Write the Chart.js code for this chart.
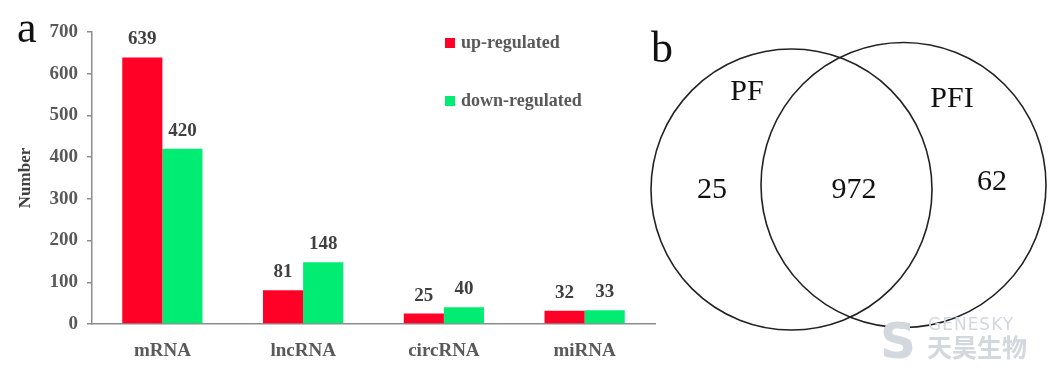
<!DOCTYPE html>
<html>
<head>
<meta charset="utf-8">
<script src="https://cdn.jsdelivr.net/npm/chart.js@4.4.1/dist/chart.umd.min.js"></script>
<style>
  body { margin: 0; background: #fff; width: 1054px; height: 368px; position: relative; overflow: hidden; }
  #bars { position: absolute; left: 0; top: 0; }
  #venn { position: absolute; left: 630px; top: 0; }
</style>
</head>
<body>
<canvas id="bars" width="660" height="368"></canvas>
<canvas id="venn" width="424" height="368"></canvas>
<script>
// panel a data
const categories = ['mRNA', 'lncRNA', 'circRNA', 'miRNA'];
const upRegulated = [639, 81, 25, 32];
const downRegulated = [420, 148, 40, 33];
const seriesNames = ['up-regulated', 'down-regulated'];

// panel b data
const vennSets = ['PF', 'PFI'];
const vennCounts = [25, 972, 62]; // PF only, shared, PFI only

const serif = '"Liberation Serif", "Times New Roman", serif';
const axisGray = '#8c8c8c';
const tickColor = '#595959';
const labelColor = '#404040';
const colors = ['#FF0027', '#00EC72'];

// value labels, legend and the panel letter
const barExtras = {
  id: 'barExtras',
  afterDatasetsDraw(chart) {
    const ctx = chart.ctx;
    ctx.save();
    ctx.font = 'bold 19px ' + serif;
    ctx.fillStyle = labelColor;
    ctx.textAlign = 'center';
    ctx.textBaseline = 'alphabetic';
    chart.data.datasets.forEach((ds, i) => {
      chart.getDatasetMeta(i).data.forEach((bar, j) => {
        ctx.fillText(ds.data[j], bar.x, bar.y - 13);
      });
    });

    // legend
    ctx.font = 'bold 18px ' + serif;
    ctx.textAlign = 'left';
    ctx.textBaseline = 'middle';
    const rows = [43, 101];
    chart.data.datasets.forEach((ds, i) => {
      ctx.fillStyle = ds.backgroundColor;
      ctx.fillRect(445, rows[i] - 5, 10, 10);
      ctx.fillStyle = tickColor;
      ctx.fillText(ds.label, 461, rows[i]);
    });

    ctx.fillStyle = '#111';
    ctx.font = '44px ' + serif;
    ctx.textBaseline = 'alphabetic';
    ctx.fillText('a', 17, 42);
    ctx.restore();
  }
};

new Chart(document.getElementById('bars'), {
  type: 'bar',
  data: {
    labels: categories,
    datasets: [
      { label: seriesNames[0], data: upRegulated, backgroundColor: colors[0], barPercentage: 1, categoryPercentage: 0.57 },
      { label: seriesNames[1], data: downRegulated, backgroundColor: colors[1], barPercentage: 1, categoryPercentage: 0.57 }
    ]
  },
  options: {
    responsive: false,
    animation: false,
    events: [],
    layout: { padding: { left: 0, top: 32, right: 5, bottom: 0 } },
    plugins: { legend: { display: false }, tooltip: { enabled: false } },
    scales: {
      x: {
        grid: { display: false },
        border: { color: axisGray, width: 1.5 },
        ticks: { font: { family: serif, size: 19, weight: 'bold' }, color: tickColor, padding: 8 },
        afterFit: s => { s.height = 44; }
      },
      y: {
        min: 0,
        max: 700,
        ticks: { stepSize: 100, font: { family: serif, size: 19, weight: 'bold' }, color: tickColor, padding: 9 },
        grid: { drawOnChartArea: false, tickLength: 5, color: axisGray, lineWidth: 1.5 },
        border: { color: axisGray, width: 1.5 },
        title: { display: true, text: 'Number', font: { family: serif, size: 17, weight: 'bold' }, color: labelColor, padding: { top: 15, bottom: 0 } },
        afterFit: s => { s.width = 92; }
      }
    }
  },
  plugins: [barExtras]
});

// venn layout in canvas units
const vennCircles = [
  { x: 161.5, y: 189.5, r: 140.5 },
  { x: 273.5, y: 185, r: 142.5 }
];
const setLabelPos = [{ x: 117, y: 100 }, { x: 322, y: 107 }];
const countPos = [{ x: 82, y: 198 }, { x: 224, y: 198 }, { x: 362, y: 190 }];

const vennText = {
  id: 'vennText',
  afterDatasetsDraw(chart) {
    const { ctx, scales: { x, y } } = chart;
    ctx.save();
    ctx.fillStyle = '#111';
    ctx.font = '30px ' + serif;
    ctx.textAlign = 'center';
    ctx.textBaseline = 'alphabetic';
    vennSets.forEach((name, i) => {
      ctx.fillText(name, x.getPixelForValue(setLabelPos[i].x), y.getPixelForValue(setLabelPos[i].y));
    });
    vennCounts.forEach((n, i) => {
      ctx.fillText(n, x.getPixelForValue(countPos[i].x), y.getPixelForValue(countPos[i].y));
    });
    ctx.textAlign = 'left';
    ctx.font = '44px ' + serif;
    ctx.fillText('b', 21, 62);

    // faint watermark
    ctx.fillStyle = '#d3d7de';
    ctx.font = 'bold 50px "DejaVu Sans"';
    ctx.fillText('S', 250, 358);
    ctx.font = '17px "DejaVu Sans"';
    ctx.letterSpacing = '1px';
    ctx.fillText('GENESKY', 298, 330);
    ctx.letterSpacing = '0px';
    ctx.font = 'bold 25px "Noto Sans CJK SC"';
    ctx.fillText('天昊生物', 297, 357);
    ctx.restore();
  }
};

new Chart(document.getElementById('venn'), {
  type: 'bubble',
  data: {
    datasets: [{
      data: vennCircles,
      backgroundColor: 'rgba(0,0,0,0)',
      borderColor: '#222',
      borderWidth: 1.6,
      clip: false
    }]
  },
  options: {
    responsive: false,
    animation: false,
    events: [],
    layout: { padding: 0, autoPadding: false },
    plugins: { legend: { display: false }, tooltip: { enabled: false } },
    scales: {
      x: { type: 'linear', min: 0, max: 424, display: false },
      y: { type: 'linear', min: 0, max: 368, reverse: true, display: false }
    }
  },
  plugins: [vennText]
});
</script>
</body>
</html>
